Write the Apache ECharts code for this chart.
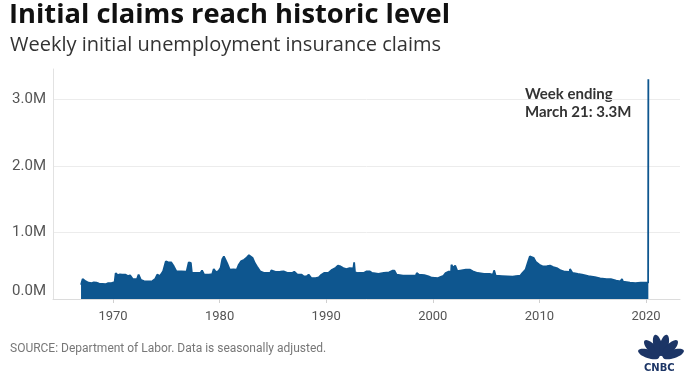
<!DOCTYPE html>
<html><head><meta charset="utf-8">
<script src="https://cdn.jsdelivr.net/npm/echarts@6/dist/echarts.min.js"></script>
<style>html,body{margin:0;padding:0;background:#fff}#c{width:688px;height:380px}</style>
</head><body><div id="c"></div>
<script>
// Decimal year of each sample point
const weeks = [
1967.00,1967.15,1967.30,1967.45,1967.70,1968.00,1968.20,1968.45,1968.70,1969.00,1969.30,1969.55,1969.85,
1970.15,1970.25,1970.45,1970.65,1970.85,1971.15,1971.40,1971.60,1971.85,1972.25,1972.40,1972.60,1972.90,
1973.30,1973.70,1973.95,1974.15,1974.40,1974.70,1974.95,1975.15,1975.45,1975.70,1975.95,1976.40,1976.90,
1977.10,1977.30,1977.40,1977.90,1978.20,1978.35,1978.55,1979.00,1979.30,1979.45,1979.65,1979.90,1980.10,
1980.25,1980.40,1980.55,1980.70,1980.95,1981.30,1981.60,1981.80,1982.00,1982.30,1982.50,1982.75,1982.90,
1983.10,1983.30,1983.50,1983.80,1984.20,1984.75,1984.85,1985.30,1985.70,1986.00,1986.40,1986.80,1987.00,
1987.30,1987.70,1987.90,1988.05,1988.15,1988.35,1988.60,1989.00,1989.30,1989.55,1989.80,1990.20,1990.55,
1990.90,1991.10,1991.35,1991.60,1991.90,1992.20,1992.55,1992.62,1992.70,1993.00,1993.50,1993.80,1994.10,
1994.30,1994.90,1995.40,1995.90,1996.20,1996.40,1996.60,1997.20,1998.00,1998.40,1998.50,1998.70,1999.20,
1999.60,1999.90,2000.50,2000.70,2001.00,2001.20,2001.45,2001.72,2001.75,2001.90,2002.10,2002.30,2002.70,
2003.10,2003.50,2003.75,2004.20,2004.80,2005.40,2005.65,2005.75,2005.90,2006.50,2007.00,2007.50,2007.80,
2008.20,2008.40,2008.70,2008.90,2009.10,2009.25,2009.45,2009.65,2010.00,2010.30,2010.70,2011.00,2011.30,
2011.70,2012.00,2012.40,2012.85,2012.87,2013.10,2013.60,2014.00,2014.60,2015.20,2015.70,2016.30,2016.70,
2017.20,2017.60,2017.75,2017.85,2018.50,2019.00,2019.50,2020.00,2020.20,2020.22
];
// Initial claims, thousands
const claims = [
215,300,315,265,245,240,250,245,232,228,222,238,240,
255,390,360,370,365,366,345,355,300,300,366,290,270,
265,270,300,366,345,416,566,556,551,491,416,416,410,
551,545,391,391,391,430,366,368,372,451,405,420,470,
600,641,630,540,441,446,440,516,566,591,616,660,690,
616,541,490,416,391,391,431,406,410,416,391,391,410,
366,366,340,366,340,366,315,315,325,366,391,391,441,
470,501,490,466,451,466,460,551,401,391,391,416,416,
391,376,391,401,426,426,366,350,350,350,391,366,360,
340,320,315,330,350,391,410,416,516,470,501,420,431,
441,441,416,391,376,376,366,431,350,345,340,335,345,
350,391,441,541,640,656,620,560,516,491,495,501,480,
460,430,410,406,451,391,376,366,345,330,310,300,300,
275,265,300,260,245,240,245,245,245,3307
];
const yearTicks = [1970,1980,1990,2000,2010,2020];

const blue = '#0e568f';
const navy = '#1c3566';
const chart = echarts.init(document.getElementById('c'), null, {renderer:'canvas'});
const feathers = [];
[-72,-43,-14,14,43,72].forEach(a => {
  feathers.push({type:'ellipse', shape:{cx:661, cy:345, rx:4.3, ry:11},
    rotation: -a*Math.PI/180, originX:661, originY:358,
    style:{fill:navy}});
});
chart.setOption({
  animation:false,
  grid:{left:53, right:8, top:69, bottom:81},
  xAxis:{type:'value', min:1964.37, max:2023.19,
    axisLine:{show:true, lineStyle:{color:'#dcdcdc'}},
    axisTick:{show:true, customValues:yearTicks, length:4, lineStyle:{color:'#d0d0d0'}},
    axisLabel:{customValues:yearTicks, margin:11, color:'#555', fontFamily:'Roboto', fontSize:13, formatter:v=>String(v)},
    splitLine:{show:false}},
  yAxis:{type:'value', min:0, max:3460000, interval:1000000,
    axisLine:{show:true, lineStyle:{color:'#e2e2e2'}},
    axisTick:{show:false},
    axisLabel:{margin:7, color:'#555', fontFamily:'Roboto', fontSize:15, showMaxLabel:false,
      verticalAlignMinLabel:'bottom',
      formatter:v=>(v/1e6).toFixed(1)+'M'},
    splitLine:{show:true, showMaxLine:false, showMinLine:false, lineStyle:{color:'#ececec'}}},
  series:[{type:'line', data:weeks.map((w,i)=>[w, claims[i]*1000]), showSymbol:false, symbol:'none',
    lineStyle:{color:blue, width:1.8}, areaStyle:{color:blue, opacity:1}, itemStyle:{color:blue}, z:1}],
  graphic:[
    {type:'text', left:9, top:2, style:{text:'Initial claims reach historic level', font:'bold 27.3px "Open Sans"', fill:'#111'}},
    {type:'text', left:10, top:35, style:{text:'Weekly initial unemployment insurance claims', font:'20px "Open Sans"', fill:'#333'}},
    {type:'text', left:525, top:87, style:{text:'Week ending', font:'bold 15px Lato', fill:'#333'}},
    {type:'text', left:525, top:105, style:{text:'March 21: 3.3M', font:'bold 15px Lato', fill:'#333'}},
    {type:'text', left:10, top:343, style:{text:'SOURCE: Department of Labor. Data is seasonally adjusted.', font:'12px Roboto', fill:'#777'}},
    ...feathers,
    {type:'text', left:644, top:363, style:{text:'CNBC', font:'bold 10px "DejaVu Sans"', fill:navy}}
  ]
});
</script></body></html>
